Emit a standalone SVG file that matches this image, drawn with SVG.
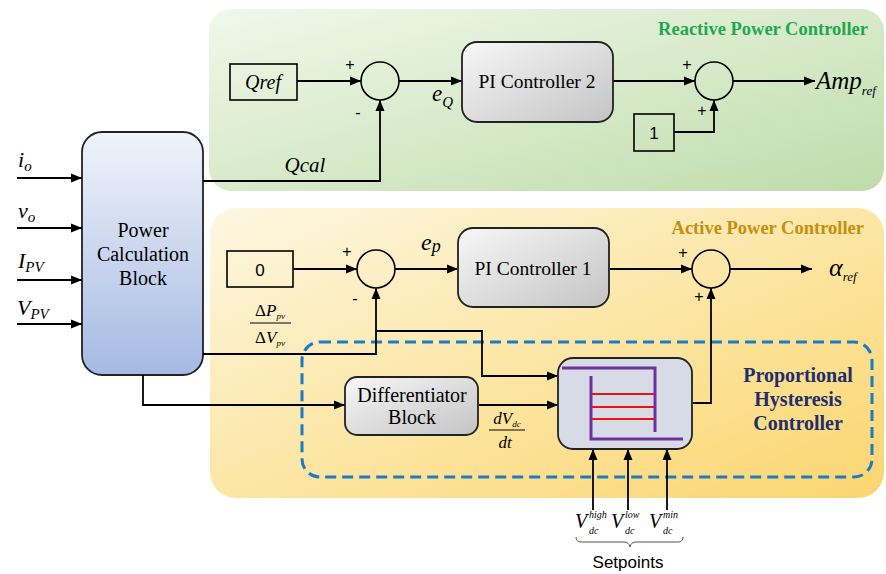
<svg xmlns="http://www.w3.org/2000/svg" width="886" height="574" viewBox="0 0 886 574">
<defs>
<linearGradient id="gGreen" x1="0" y1="0" x2="1" y2="1"><stop offset="0" stop-color="#f1f8ea"/><stop offset="1" stop-color="#bedcaa"/></linearGradient>
<linearGradient id="gYellow" x1="0" y1="0" x2="1" y2="1"><stop offset="0" stop-color="#fdf7e2"/><stop offset="0.6" stop-color="#fce39a"/><stop offset="1" stop-color="#fbd570"/></linearGradient>
<linearGradient id="gBlue" x1="0" y1="0" x2="0" y2="1"><stop offset="0" stop-color="#f0f3fa"/><stop offset="1" stop-color="#a5bae3"/></linearGradient>
<linearGradient id="gGray" x1="0" y1="0" x2="1" y2="1"><stop offset="0" stop-color="#f7f7f7"/><stop offset="1" stop-color="#c4c4c4"/></linearGradient>
<marker id="arr" markerUnits="userSpaceOnUse" markerWidth="12" markerHeight="10" refX="11" refY="5" orient="auto"><path d="M0,0.5 L11,5 L0,9.5 z" fill="#000"/></marker>
</defs>
<style>
.ln{fill:none;stroke:#000;stroke-width:1.8}
.ar{marker-end:url(#arr)}
.sum{fill:none;stroke:#000;stroke-width:1.6}
.box{fill:none;stroke:#000;stroke-width:1.6}
.rbox{fill:url(#gGray);stroke:#222;stroke-width:1.8}
.rs{font-family:"Liberation Serif","Times New Roman",Tinos,serif;font-weight:500;font-style:normal}
</style>

<g id="power-calc" font-size="20" text-anchor="middle">
<rect x="82" y="132" width="121" height="243" rx="20" fill="url(#gBlue)" stroke="#222" stroke-width="1.8"/>
<text class="rs" x="143" y="237">Power</text>
<text class="rs" x="143" y="261">Calculation</text>
<text class="rs" x="143" y="285">Block</text>
</g>

<g id="reactive-panel">
<rect x="209" y="9" width="675" height="182" rx="22" fill="url(#gGreen)"/>
<text x="868" y="35" text-anchor="end" font-family="Liberation Serif, serif" font-size="18.5" font-weight="bold" fill="#1fa84f">Reactive Power Controller</text>
</g>
<g id="active-panel">
<rect x="210" y="208" width="674" height="290" rx="26" fill="url(#gYellow)"/>
<text x="864" y="234" text-anchor="end" font-family="Liberation Serif, serif" font-size="18.5" font-weight="bold" fill="#c4900e">Active Power Controller</text>
</g>
<g id="phc-group" font-family="Liberation Serif, serif" font-size="20" font-weight="bold" fill="#1f2d6b" text-anchor="middle">
<rect x="302" y="342" width="570" height="135" rx="18" fill="none" stroke="#1a7cc6" stroke-width="3" stroke-dasharray="11 6"/>
<text x="798" y="382">Proportional</text>
<text x="798" y="406">Hysteresis</text>
<text x="798" y="430">Controller</text>
</g>

<g id="connectors">
<path class="ln ar" d="M17,178 H82"/>
<path class="ln ar" d="M17,228 H82"/>
<path class="ln ar" d="M17,280 H82"/>
<path class="ln ar" d="M17,324 H82"/>
<path class="ln ar" d="M297,81 H361"/>
<path class="ln ar" d="M203,181 H380 V100"/>
<path class="ln ar" d="M399,81 H462"/>
<path class="ln ar" d="M613,81 H695"/>
<path class="ln ar" d="M674,132 H714 V100"/>
<path class="ln ar" d="M733,81 H815"/>
<path class="ln ar" d="M293,269 H357"/>
<path class="ln ar" d="M395,269 H458"/>
<path class="ln ar" d="M609,269 H692"/>
<path class="ln ar" d="M730,269 H812"/>
<path class="ln ar" d="M203,354 H376 V288"/>
<path class="ln ar" d="M376,331 H482 V376 H558"/>
<path class="ln ar" d="M143,375 V405 H345"/>
<path class="ln ar" d="M478,405 H558"/>
<path class="ln ar" d="M692,403 H711 V288"/>
<path class="ln ar" d="M593,510 V449"/>
<path class="ln ar" d="M628,510 V449"/>
<path class="ln ar" d="M667,510 V449"/>
</g>

<g id="inputs" font-family="Liberation Serif, serif" font-style="italic" font-size="22">
<text x="18" y="167">i<tspan font-size="15" dy="4">o</tspan></text>
<text x="18" y="218">v<tspan font-size="15" dy="4">o</tspan></text>
<text x="18" y="268">I<tspan font-size="15" dy="4">PV</tspan></text>
<text x="17" y="315">V<tspan font-size="15" dy="4">PV</tspan></text>
</g>

<g id="qref">
<rect class="box" x="230" y="64" width="67" height="36"/>
<text x="263" y="89" text-anchor="middle" font-family="Liberation Serif, serif" font-style="italic" font-size="20">Qref</text>
</g>
<g id="sumQ" font-family="Liberation Sans, sans-serif" font-size="16" text-anchor="middle">
<circle class="sum" cx="380" cy="81" r="19"/>
<text x="350" y="70">+</text>
<text x="358" y="118">-</text>
</g>
<text x="305" y="172" text-anchor="middle" font-family="Liberation Serif, serif" font-style="italic" font-size="21">Qcal</text>
<text x="432" y="101" font-family="Liberation Serif, serif" font-style="italic" font-size="23">e<tspan font-size="15" dy="6">Q</tspan></text>
<g id="pi2">
<rect class="rbox" x="462" y="42" width="151" height="80" rx="15"/>
<text class="rs" x="537" y="88" text-anchor="middle" font-size="19.5">PI Controller 2</text>
</g>
<g id="sum2" font-family="Liberation Sans, sans-serif" font-size="16" text-anchor="middle">
<circle class="sum" cx="714" cy="81" r="19"/>
<text x="687" y="70">+</text>
<text x="702" y="116">+</text>
</g>
<g id="one">
<rect class="box" x="634" y="114" width="40" height="37"/>
<text x="654" y="139" text-anchor="middle" font-family="Liberation Sans, sans-serif" font-size="17">1</text>
</g>
<text x="816" y="89" font-family="Liberation Serif, serif" font-style="italic" font-size="25">Amp<tspan font-size="13" dy="6">ref</tspan></text>

<g id="zero">
<rect class="box" x="227" y="251" width="66" height="36"/>
<text x="260" y="276" text-anchor="middle" font-family="Liberation Sans, sans-serif" font-size="17">0</text>
</g>
<g id="sumP" font-family="Liberation Sans, sans-serif" font-size="16" text-anchor="middle">
<circle class="sum" cx="376" cy="269" r="19"/>
<text x="347" y="257">+</text>
<text x="355" y="304">-</text>
</g>
<text x="421" y="250" font-family="Liberation Serif, serif" font-style="italic" font-size="24">e<tspan font-size="18" dy="2">p</tspan></text>
<g id="dpdv" font-family="Liberation Serif, serif" font-style="italic" font-size="17" text-anchor="middle">
<text x="270" y="316"><tspan font-style="normal">Δ</tspan>P<tspan font-size="9" dy="3">pv</tspan></text>
<line x1="250" y1="323" x2="291" y2="323" stroke="#000" stroke-width="1"/>
<text x="270" y="343"><tspan font-style="normal">Δ</tspan>V<tspan font-size="9" dy="3">pv</tspan></text>
</g>
<g id="pi1">
<rect class="rbox" x="458" y="228" width="151" height="79" rx="15"/>
<text class="rs" x="533" y="275" text-anchor="middle" font-size="19.5">PI Controller 1</text>
</g>
<g id="sumA" font-family="Liberation Sans, sans-serif" font-size="16" text-anchor="middle">
<circle class="sum" cx="711" cy="269" r="19"/>
<text x="683" y="258">+</text>
<text x="699" y="302">+</text>
</g>
<text x="829" y="276" font-family="Liberation Serif, serif" font-style="italic" font-size="26">α<tspan font-size="13" dy="5">ref</tspan></text>

<g id="differentiator">
<rect class="rbox" x="345" y="377" width="133" height="58" rx="12"/>
<text class="rs" x="412" y="402" text-anchor="middle" font-size="20">Differentiator</text>
<text class="rs" x="412" y="424" text-anchor="middle" font-size="20">Block</text>
</g>
<g id="dvdt" font-family="Liberation Serif, serif" font-style="italic" font-size="17" text-anchor="middle">
<text x="507" y="424">dV<tspan font-size="9" dy="3">dc</tspan></text>
<line x1="489" y1="430" x2="525" y2="430" stroke="#000" stroke-width="1"/>
<text x="505" y="448">dt</text>
</g>
<g id="hysteresis">
<rect x="558" y="358" width="134" height="91" rx="15" fill="#d6dbe6" stroke="#222" stroke-width="1.8"/>
<path d="M562,368 H655 V432" fill="none" stroke="#7030a0" stroke-width="3"/>
<path d="M591,376 V439 H683" fill="none" stroke="#7030a0" stroke-width="3"/>
<g stroke="#ee1111" stroke-width="2"><line x1="592" y1="394" x2="654" y2="394"/><line x1="592" y1="407" x2="654" y2="407"/><line x1="592" y1="419" x2="654" y2="419"/></g>
</g>
<g id="setpoints" font-family="Liberation Serif, serif" font-style="italic">
<text x="575" y="528" font-size="20">V</text>
<text x="589" y="518" font-size="10">high</text>
<text x="589" y="534" font-size="10">dc</text>
<text x="611" y="528" font-size="20">V</text>
<text x="625" y="518" font-size="10">low</text>
<text x="625" y="534" font-size="10">dc</text>
<text x="649" y="528" font-size="20">V</text>
<text x="663" y="518" font-size="10">min</text>
<text x="663" y="534" font-size="10">dc</text>
<path d="M576,537 Q576,542 581,542 H624 Q629,542 630,547 Q631,542 636,542 H678 Q683,542 683,537" fill="none" stroke="#555" stroke-width="1"/>
<text x="628" y="568" text-anchor="middle" font-style="normal" font-family="Liberation Sans, sans-serif" font-size="17">Setpoints</text>
</g>
</svg>
